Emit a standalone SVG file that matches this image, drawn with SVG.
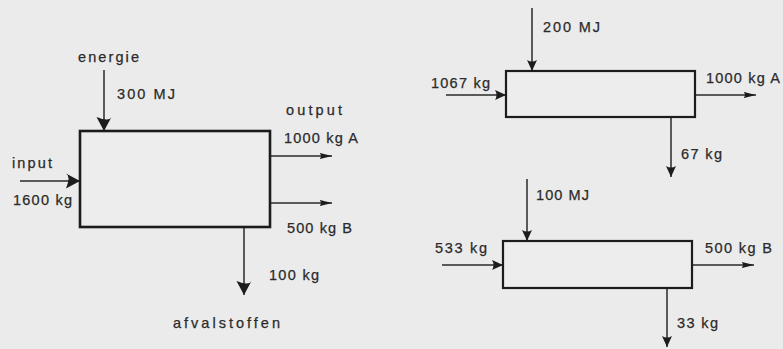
<svg xmlns="http://www.w3.org/2000/svg" width="783" height="349" viewBox="0 0 783 349">
<style>
.bg{fill:#ebebeb}
.box{fill:#ededed;stroke:#1c1c1c;stroke-width:2.6}
.box2{fill:#ededed;stroke:#1c1c1c;stroke-width:2.2}
.ln{stroke:#2a2a2a;stroke-width:1.5;fill:none}
.t{font-family:"Liberation Sans",Arial,sans-serif;font-size:14.5px;fill:#2a2a2a;stroke:#2a2a2a;stroke-width:0.25}
</style>
<defs>
<marker id="big" markerUnits="userSpaceOnUse" markerWidth="16" markerHeight="16" viewBox="0 0 16 16" refX="15" refY="8" orient="auto"><path d="M1,0.5 Q6,3 1,15.5 L15,8 Z" fill="#1c1c1c"/></marker>
<marker id="thin" markerUnits="userSpaceOnUse" markerWidth="13" markerHeight="8" viewBox="0 0 13 8" refX="12.5" refY="4" orient="auto"><path d="M0,1 L12.5,4 L0,7 Q3,4 0,1 Z" fill="#1c1c1c"/></marker>
<marker id="small" markerUnits="userSpaceOnUse" markerWidth="12" markerHeight="11" viewBox="0 0 12 11" refX="11" refY="5.5" orient="auto"><path d="M0,0.5 Q3,5.5 0,10.5 L11,5.5 Z" fill="#1c1c1c"/></marker>
</defs>
<rect class="bg" x="0" y="0" width="783" height="349"/>

<g id="connectors">
<line class="ln" x1="104" y1="70" x2="104" y2="131" marker-end="url(#big)"/>
<line class="ln" x1="20" y1="181" x2="80" y2="181" marker-end="url(#big)"/>
<line class="ln" x1="270" y1="156" x2="332" y2="156" marker-end="url(#thin)"/>
<line class="ln" x1="270" y1="203" x2="332" y2="203" marker-end="url(#thin)"/>
<line class="ln" x1="244" y1="227" x2="244" y2="295" marker-end="url(#big)"/>

<line class="ln" x1="532" y1="8" x2="532" y2="71" marker-end="url(#small)"/>
<line class="ln" x1="446" y1="95" x2="506" y2="95" marker-end="url(#small)"/>
<line class="ln" x1="695" y1="95" x2="756" y2="95" marker-end="url(#thin)"/>
<line class="ln" x1="671" y1="117" x2="671" y2="177" marker-end="url(#small)"/>

<line class="ln" x1="527" y1="179" x2="527" y2="241" marker-end="url(#small)"/>
<line class="ln" x1="442" y1="265" x2="503" y2="265" marker-end="url(#small)"/>
<line class="ln" x1="692" y1="265" x2="754" y2="265" marker-end="url(#thin)"/>
<line class="ln" x1="667" y1="288" x2="667" y2="347" marker-end="url(#small)"/>
</g>

<g id="process-main">
<rect class="box" x="80" y="131" width="190" height="96"/>
<text class="t" x="78" y="62" textLength="61" lengthAdjust="spacing">energie</text>
<text class="t" x="117" y="99" textLength="58" lengthAdjust="spacing">300 MJ</text>
<text class="t" x="286" y="115" textLength="56" lengthAdjust="spacing">output</text>
<text class="t" x="284" y="143" textLength="74" lengthAdjust="spacing">1000 kg A</text>
<text class="t" x="12" y="168" textLength="40" lengthAdjust="spacing">input</text>
<text class="t" x="13" y="205" textLength="59" lengthAdjust="spacing">1600 kg</text>
<text class="t" x="287" y="233" textLength="65" lengthAdjust="spacing">500 kg B</text>
<text class="t" x="269" y="280" textLength="50" lengthAdjust="spacing">100 kg</text>
<text class="t" x="173" y="328" textLength="107" lengthAdjust="spacing">afvalstoffen</text>
</g>

<g id="process-a">
<rect class="box2" x="506" y="71" width="189" height="46"/>
<text class="t" x="543" y="32" textLength="57" lengthAdjust="spacing">200 MJ</text>
<text class="t" x="431" y="88" textLength="59" lengthAdjust="spacing">1067 kg</text>
<text class="t" x="706" y="83" textLength="74" lengthAdjust="spacing">1000 kg A</text>
<text class="t" x="681" y="159" textLength="41" lengthAdjust="spacing">67 kg</text>
</g>

<g id="process-b">
<rect class="box2" x="503" y="241" width="189" height="47"/>
<text class="t" x="536" y="200" textLength="53" lengthAdjust="spacing">100 MJ</text>
<text class="t" x="435" y="253" textLength="52" lengthAdjust="spacing">533 kg</text>
<text class="t" x="705" y="253" textLength="67" lengthAdjust="spacing">500 kg B</text>
<text class="t" x="677" y="328" textLength="41" lengthAdjust="spacing">33 kg</text>
</g>
</svg>
